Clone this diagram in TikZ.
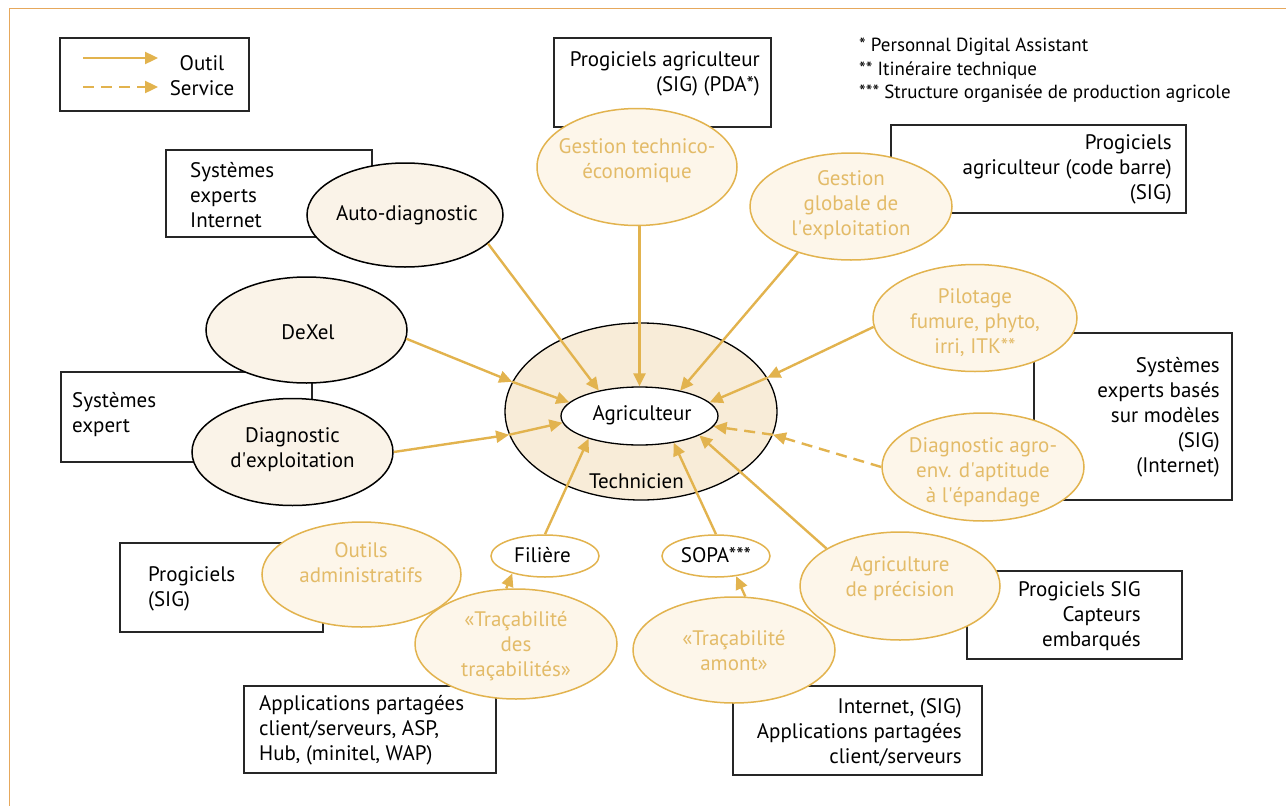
\documentclass[tikz,border=0pt]{standalone}
\usepackage{fontspec}
\setmainfont{PT Sans}
\usetikzlibrary{arrows.meta, shapes.geometric}

\definecolor{gold}{RGB}{226,179,78}
\definecolor{goldtxt}{RGB}{227,187,104}
\definecolor{goldfill}{RGB}{253,246,234}
\definecolor{cream}{RGB}{250,243,232}
\definecolor{techfill}{RGB}{248,236,216}
\definecolor{framecol}{RGB}{230,168,92}

\newcommand{\apos}{\textquotesingle}

\tikzset{
  lbl/.style={inner sep=0pt, font=\fontsize{21}{25}\selectfont},
  note/.style={inner sep=0pt, align=left, font=\fontsize{19}{23.5}\selectfont},
  box/.style={draw=black!85, line width=1.2pt, fill=white, inner sep=0pt},
  tool/.style={ellipse, draw=gold, line width=1.5pt, fill=goldfill, inner sep=0pt},
  appli/.style={ellipse, draw=black, line width=1.5pt, fill=cream, inner sep=0pt},
  small/.style={ellipse, draw=gold, line width=1.5pt, fill=white, inner sep=0pt,
    minimum width=108pt, minimum height=42pt},
  arr/.style={draw=gold, line width=2.4pt, -{Triangle[length=13pt,width=12pt]}},
  serv/.style={arr, dash pattern=on 11pt off 7pt},
}

\begin{document}
\begin{tikzpicture}[x=1pt, y=-1pt]
\useasboundingbox (0,0) rectangle (1286,806);
% Frame
\draw[framecol, line width=1.2pt] (9.5,806) -- (9.5,8.5) -- (1286,8.5);

% Legend
\node[box, minimum width=189pt, minimum height=73pt] (legend) at (154.5,74.5) {};
\coordinate (outA) at (83,58);
\coordinate (outB) at (158,58);
\coordinate (srvA) at (83,87);
\coordinate (srvB) at (158,87);
\draw[arr] (outA) -- (outB);
\draw[serv] (srvA) -- (srvB);
\node[lbl, align=center] (legendtxt) at (202,76) {Outil\\Service};

% Footnotes
\node[note, anchor=west] (notes) at (859,70.5) {* Personnal Digital Assistant\\** Itinéraire technique\\*** Structure organisée de production agricole};

% Tool boxes
\node[box, minimum width=217pt, minimum height=89pt] (pdabox) at (662.5,82.5) {};
\node[lbl, align=right, anchor=east] (pdatxt) at (760,74) {Progiciels agriculteur\\(SIG) (PDA*)};
\node[box, minimum width=295pt, minimum height=88pt] (barbox) at (1038.5,169) {};
\node[lbl, align=right, anchor=east] (bartxt) at (1172,169) {Progiciels\\agriculteur (code barre)\\(SIG)};
\node[box, minimum width=206pt, minimum height=87pt] (netbox) at (269,193.5) {};
\node[lbl, align=left, anchor=west] (nettxt) at (190,195) {Systèmes\\experts\\Internet};
\node[box, minimum width=251pt, minimum height=90pt] (expbox) at (186.5,417) {};
\node[lbl, align=left, anchor=west] (exptxt) at (72,415) {Systèmes\\expert};
\node[box, minimum width=198pt, minimum height=167pt] (modbox) at (1133,416.5) {};
\node[lbl, align=right, anchor=east] (modtxt) at (1220,417) {Systèmes\\experts basés\\sur modèles\\(SIG)\\(Internet)};
\node[box, minimum width=203pt, minimum height=89pt] (sigbox) at (221.5,587.5) {};
\node[lbl, align=left, anchor=west] (sigtxt) at (148,588.5) {Progiciels\\(SIG)};
\node[box, minimum width=215pt, minimum height=88pt] (capbox) at (1074.5,615) {};
\node[lbl, align=right, anchor=east] (captxt) at (1141,616.5) {Progiciels SIG\\Capteurs\\embarqués};
\node[box, minimum width=252pt, minimum height=87pt] (aspbox) at (370,729.5) {};
\node[lbl, align=left, anchor=west] (asptxt) at (259,730) {Applications partagées\\client/serveurs, ASP,\\Hub, (minitel, WAP)};
\node[box, minimum width=249pt, minimum height=89pt] (webbox) at (857.5,730.5) {};
\node[lbl, align=right, anchor=east] (webtxt) at (962,732.5) {Internet, (SIG)\\Applications partagées\\client/serveurs};

% Applications
\node[appli, minimum width=196pt, minimum height=104pt] (autod) at (405,215) {};
\node[lbl] (autodtxt) at (407,215) {Auto-diagnostic};
\node[appli, minimum width=201pt, minimum height=106pt] (dexel) at (306.5,330) {};
\node[lbl] (dexeltxt) at (308,332) {DeXel};
\node[appli, minimum width=201pt, minimum height=107pt] (dexp) at (292.5,452) {};
\node[lbl, align=center] (dexptxt) at (292.5,450) {Diagnostic\\d\apos exploitation};

% Services
\node[tool, minimum width=200pt, minimum height=117pt] (gtec) at (637,167) {};
\node[lbl, align=center, goldtxt] (gtectxt) at (637,161) {Gestion technico-\\économique};
\node[tool, minimum width=202pt, minimum height=107pt] (ggl) at (851,206.5) {};
\node[lbl, align=center, goldtxt] (ggltxt) at (851,205) {Gestion\\globale de\\l\apos exploitation};
\node[tool, minimum width=204pt, minimum height=107pt] (pil) at (975,318) {};
\node[lbl, align=center, goldtxt] (piltxt) at (975,322.5) {Pilotage\\fumure, phyto,\\irri, ITK**};
\node[tool, minimum width=202pt, minimum height=108pt] (dagro) at (983,467) {};
\node[lbl, align=center, goldtxt] (dagrotxt) at (983,472) {Diagnostic agro-\\env. d\apos aptitude\\à l\apos épandage};
\node[tool, minimum width=199pt, minimum height=105pt] (outadm) at (361.5,574.5) {};
\node[lbl, align=center, goldtxt] (outadmtxt) at (361,562.5) {Outils\\administratifs};
\node[tool, minimum width=202pt, minimum height=110pt] (tdt) at (516,644) {};
\node[lbl, align=center, goldtxt] (tdttxt) at (516,646.5) {«Traçabilité\\des\\traçabilités»};
\node[tool, minimum width=202pt, minimum height=106pt] (tam) at (734,650) {};
\node[lbl, align=center, goldtxt] (tamtxt) at (734,651) {«Traçabilité\\amont»};
\node[tool, minimum width=200pt, minimum height=108pt] (aprec) at (900,586) {};
\node[lbl, align=center, goldtxt] (aprectxt) at (900,578.5) {Agriculture\\de précision};
\node[small] (filiere) at (545,556) {};
\node[lbl] (filieretxt) at (542.5,555) {Filière};
\node[small] (sopa) at (716,556) {};
\node[lbl] (sopatxt) at (716,555) {SOPA***};

% Centre
\node[ellipse, draw=black, line width=1.3pt, fill=techfill, minimum width=272pt, minimum height=177pt] (tech) at (641,411.5) {};
\node[lbl] (techtxt) at (636.5,481) {Technicien};
\node[ellipse, draw=black, line width=1.3pt, fill=white, minimum width=157pt, minimum height=58pt] (agri) at (639.5,416) {};
\node[lbl] (agritxt) at (642,415) {Agriculteur};

% Arrows
\draw[arr] (autod.-19) -- (agri.148);
\draw[arr] (gtec.south -| agri.north) -- (agri.north);
\draw[arr] (ggl.221) -- (agri.32);
\draw[arr] (dexel.-5) -- (tech.167);
\draw[arr] (tech.167) -- (agri.169);
\draw[arr] (dexp.east) -- (tech.190);
\draw[arr] (tech.190) -- (agri.185);
\draw[arr] (pil.185) -- (tech.15);
\draw[arr] (tech.15) -- (agri.11);
\draw[serv] (dagro.west) -- (tech.-10);
\draw[serv] (tech.-10) -- (agri.-8);
\draw[arr] (filiere.north) -- (agri.204);
\draw[arr] (sopa.north) -- (agri.-38);
\draw[arr] (aprec.153) -- (agri.-18);
\draw[arr] (tdt.100) -- (filiere.208);
\draw[arr] (tam.78) -- (sopa.-45);
\end{tikzpicture}
\end{document}
